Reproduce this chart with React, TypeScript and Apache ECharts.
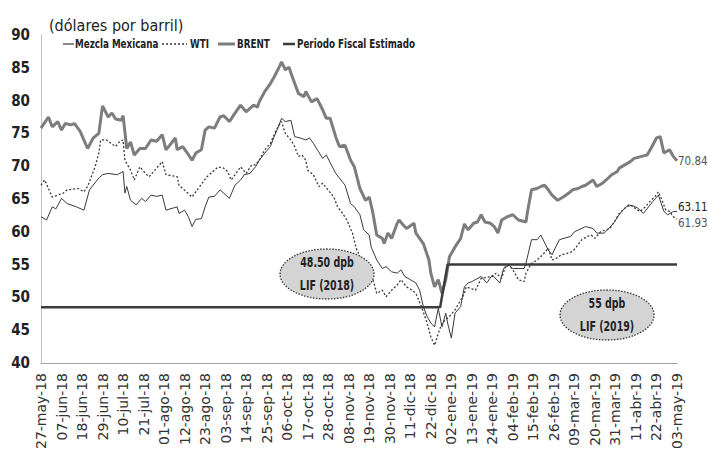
import React, { useEffect, useRef } from "react";
import * as echarts from "echarts";

// Calendar of the x axis: daily, from 27-may-18 to 03-may-19
const MONTHS = ["ene", "feb", "mar", "abr", "may", "jun", "jul", "ago", "sep", "oct", "nov", "dic"];
const DAY_COUNT = 342;

function buildDates(): string[] {
  const out: string[] = [];
  for (let i = 0; i < DAY_COUNT; i++) {
    const d = new Date(Date.UTC(2018, 4, 27 + i));
    const dd = String(d.getUTCDate()).padStart(2, "0");
    out.push(`${dd}-${MONTHS[d.getUTCMonth()]}-${String(d.getUTCFullYear()).slice(2)}`);
  }
  return out;
}
const dates = buildDates();

// [days since 27-may-18, USD per barrel]
const brent: number[][] = [
  [0, 75.8], [4, 77.5], [6, 76.0], [9, 76.8], [11, 75.5], [13, 76.5], [16, 76.3], [18, 76.5], [21, 75.3], [25, 72.7],
  [28, 74.3], [31, 75.0], [33, 79.2], [36, 77.5], [38, 78.1], [40, 77.2], [43, 77.0], [44, 77.7], [46, 72.7], [48, 73.7],
  [50, 71.7], [53, 72.7], [56, 72.7], [59, 74.0], [62, 73.8], [65, 74.8], [67, 72.5], [69, 73.2], [72, 74.3], [73, 72.5],
  [76, 73.0], [78, 72.2], [81, 70.9], [83, 72.0], [86, 72.5], [88, 75.5], [90, 76.0], [93, 75.8], [96, 77.5], [98, 77.7],
  [101, 76.8], [104, 78.1], [107, 79.3], [110, 78.3], [114, 79.3], [116, 79.0], [117, 79.8], [120, 81.4], [123, 82.6],
  [125, 83.6], [127, 84.7], [129, 85.9], [131, 84.7], [133, 85.1], [134, 84.2], [138, 81.1], [141, 80.6], [142, 81.4],
  [145, 79.8], [148, 80.3], [151, 78.6], [153, 77.3], [155, 77.3], [158, 74.5], [160, 73.0], [163, 73.2], [166, 70.9],
  [168, 69.9], [171, 66.6], [174, 64.8], [176, 65.3], [178, 62.8], [180, 59.5], [183, 59.0], [184, 58.2], [186, 59.8],
  [188, 59.0], [191, 61.3], [192, 61.8], [194, 61.1], [196, 60.5], [200, 61.3], [201, 59.8], [205, 58.2], [208, 55.7],
  [209, 53.7], [211, 51.6], [213, 52.7], [215, 50.6], [217, 52.7], [219, 56.2], [222, 57.7], [225, 59.0], [227, 61.2],
  [229, 60.3], [232, 61.3], [234, 61.5], [236, 62.6], [238, 61.5], [241, 61.3], [243, 60.8], [245, 59.8], [247, 61.8],
  [250, 62.3], [253, 62.6], [256, 61.8], [260, 61.5], [261, 63.3], [263, 66.4], [266, 66.6], [268, 66.9], [270, 67.1],
  [272, 66.4], [274, 65.6], [277, 64.8], [280, 65.3], [283, 65.9], [285, 66.4], [288, 66.6], [290, 66.9], [292, 67.1],
  [296, 67.9], [298, 66.9], [301, 67.4], [303, 67.9], [306, 68.7], [309, 69.2], [310, 69.7], [313, 70.2], [316, 70.7],
  [318, 71.2], [322, 71.5], [325, 71.7], [327, 72.7], [330, 74.3], [332, 74.5], [334, 72.0], [337, 72.5], [339, 71.5],
  [341, 70.84],
];

const mezcla: number[][] = [
  [0, 62.3], [3, 61.8], [6, 63.8], [8, 63.5], [11, 65.1], [14, 64.3], [19, 63.8], [23, 63.3], [26, 66.4], [31, 68.2],
  [33, 68.7], [36, 68.9], [41, 68.7], [44, 69.2], [45, 65.9], [46, 66.9], [48, 64.8], [51, 64.1], [54, 65.1], [56, 64.6],
  [59, 65.6], [62, 65.4], [65, 65.6], [67, 63.3], [73, 63.8], [74, 62.8], [77, 63.3], [79, 62.3], [81, 60.8], [83, 61.9],
  [86, 62.0], [88, 63.8], [90, 65.3], [93, 65.4], [96, 66.4], [101, 65.1], [104, 67.1], [107, 67.9], [109, 68.7],
  [112, 68.9], [115, 69.9], [117, 70.9], [120, 72.0], [123, 73.0], [125, 74.5], [127, 75.8], [129, 77.3], [131, 76.8],
  [134, 77.0], [136, 74.5], [139, 74.3], [142, 74.0], [144, 74.3], [146, 73.5], [151, 71.2], [153, 71.7], [158, 68.9],
  [160, 68.2], [163, 67.1], [166, 64.3], [168, 63.8], [171, 62.6], [173, 60.3], [176, 59.5], [177, 57.7], [180, 55.7],
  [183, 54.4], [185, 54.7], [188, 53.9], [191, 53.7], [193, 54.2], [195, 53.2], [198, 52.7], [201, 52.2], [203, 51.1],
  [205, 48.6], [207, 47.1], [209, 46.1], [211, 45.5], [213, 48.3], [215, 45.5], [217, 47.6], [218, 46.1], [220, 43.8],
  [222, 47.6], [225, 48.6], [227, 51.6], [229, 52.2], [231, 52.4], [236, 53.2], [239, 52.2], [242, 53.4], [246, 52.2],
  [248, 54.4], [251, 54.9], [253, 54.4], [259, 54.4], [260, 55.2], [263, 58.8], [266, 58.8], [268, 59.5], [272, 57.2],
  [274, 56.5], [276, 57.7], [278, 58.8], [284, 59.3], [286, 60.0], [292, 60.8], [296, 60.5], [298, 59.8], [302, 59.8],
  [307, 61.3], [310, 62.6], [312, 63.3], [315, 64.1], [318, 63.9], [320, 63.6], [323, 62.8], [326, 63.9], [328, 64.6],
  [331, 65.6], [334, 63.1], [336, 62.6], [339, 63.1], [341, 63.11],
];

const wti: number[][] = [
  [0, 67.1], [2, 67.9], [4, 66.6], [6, 65.3], [12, 65.9], [14, 66.4], [20, 66.6], [23, 66.1], [25, 66.9], [27, 68.4],
  [29, 69.9], [31, 72.0], [32, 74.0], [35, 74.0], [40, 73.0], [42, 73.7], [44, 74.0], [45, 70.9], [46, 70.4], [48, 69.4],
  [50, 67.9], [53, 69.9], [56, 68.9], [58, 68.4], [65, 70.7], [67, 68.7], [73, 68.4], [74, 67.1], [81, 65.3], [83, 66.1],
  [89, 68.4], [91, 68.9], [95, 69.9], [98, 69.7], [100, 69.2], [102, 67.9], [107, 69.9], [110, 68.9], [113, 70.2],
  [115, 70.2], [117, 70.9], [120, 72.5], [123, 73.5], [125, 74.8], [127, 76.0], [129, 76.8], [131, 75.0], [133, 74.3],
  [134, 74.0], [136, 73.0], [138, 71.5], [140, 71.7], [142, 70.9], [143, 69.4], [146, 68.7], [149, 66.9], [151, 67.4],
  [157, 65.3], [159, 63.8], [161, 63.1], [164, 61.8], [167, 59.8], [169, 57.5], [171, 56.2], [173, 54.7], [175, 53.7],
  [178, 52.7], [180, 50.6], [183, 51.1], [185, 50.1], [188, 51.1], [191, 51.9], [193, 52.7], [196, 51.6], [199, 51.1],
  [201, 50.6], [204, 48.6], [207, 46.1], [209, 44.0], [211, 42.7], [213, 44.5], [215, 46.1], [219, 47.1], [222, 48.1],
  [225, 49.6], [227, 50.6], [228, 51.6], [233, 51.1], [236, 52.9], [242, 53.2], [244, 53.7], [247, 52.9], [249, 54.7],
  [251, 54.9], [253, 54.2], [256, 52.7], [259, 52.4], [260, 53.7], [263, 55.2], [266, 55.7], [269, 56.5], [272, 57.5],
  [274, 55.7], [276, 55.9], [279, 56.5], [282, 56.7], [285, 57.0], [287, 57.7], [290, 58.8], [293, 59.3], [295, 59.5],
  [297, 59.0], [300, 60.0], [305, 60.5], [308, 61.8], [310, 62.8], [313, 63.6], [316, 64.1], [321, 63.1], [324, 63.8],
  [327, 64.8], [329, 65.3], [331, 66.1], [333, 64.8], [335, 63.3], [337, 63.1], [339, 62.3], [341, 61.93],
];

const fiscal: number[][] = [[0, 48.5], [214, 48.5], [218, 55], [341, 55]];

const seriesNames = ["Mezcla Mexicana", "WTI", "BRENT", "Periodo Fiscal Estimado"];
const yTicks = { min: 40, max: 90, step: 5 };
const notes = [
  { text: "48.50 dpb\nLIF (2018)", cx: 327, cy: 274 },
  { text: "55 dpb\nLIF (2019)", cx: 607, cy: 315 },
];

const COND = "'DejaVu Sans Condensed', 'Liberation Sans Narrow', sans-serif";
const C_DARK = "#3a3a3a";
const C_BRENT = "#7d7d7d";
const C_FISCAL = "#3c3c3c";

export default function App() {
  const ref = useRef<HTMLDivElement>(null);
  useEffect(() => {
    if (!ref.current) return;
    const chart = echarts.init(ref.current, undefined, { renderer: "svg" });
    const endFmt = (p: any) => Number(p.value[1]).toFixed(2);

    const legendItems = [
      { name: seriesNames[0], x1: 63, x2: 74, tx: 75, stroke: C_DARK, width: 1.2, dash: null as any },
      { name: seriesNames[1], x1: 162, x2: 187, tx: 190, stroke: C_DARK, width: 1.3, dash: [2, 2] },
      { name: seriesNames[2], x1: 218, x2: 235, tx: 237, stroke: C_BRENT, width: 3, dash: null },
      { name: seriesNames[3], x1: 283, x2: 295, tx: 297, stroke: C_FISCAL, width: 2.5, dash: null },
    ];
    const LY = 44;

    const graphics: any[] = [
      {
        type: "text",
        x: 49,
        y: 25,
        style: { text: "(dólares por barril)", fontSize: 16, fontFamily: COND, fill: "#222", verticalAlign: "middle" },
      },
    ];
    legendItems.forEach((it) => {
      graphics.push({
        type: "line",
        shape: { x1: it.x1, y1: LY, x2: it.x2, y2: LY },
        style: { stroke: it.stroke, lineWidth: it.width, lineDash: it.dash || undefined },
      });
      graphics.push({
        type: "text",
        x: it.tx,
        y: LY,
        scaleX: 0.78,
        style: {
          text: it.name,
          fontSize: 12.5,
          fontWeight: "bold",
          fontFamily: COND,
          fill: "#222",
          verticalAlign: "middle",
        },
      });
    });
    notes.forEach((n) => {
      graphics.push({
        type: "ellipse",
        shape: { cx: n.cx, cy: n.cy, rx: 47, ry: 25 },
        style: { fill: "#d4d4d4", stroke: "#333", lineWidth: 1.3, lineDash: [1.5, 1.5] },
        z: 10,
      });
      graphics.push({
        type: "text",
        x: n.cx,
        y: n.cy,
        scaleX: 0.78,
        style: {
          text: n.text,
          align: "center",
          verticalAlign: "middle",
          fontSize: 13.5,
          fontWeight: "bold",
          lineHeight: 23,
          fontFamily: COND,
          fill: "#222",
        },
        z: 11,
      });
    });

    const endLabel = (color: string, dy: number) => ({
      show: true,
      formatter: endFmt,
      fontSize: 11.5,
      fontFamily: COND,
      color,
      distance: 1,
      offset: [0, dy],
    });

    chart.setOption({
      animation: false,
      grid: { left: 41, right: 31, top: 35, bottom: 99 },
      xAxis: {
        type: "category",
        data: dates,
        boundaryGap: false,
        axisLine: { lineStyle: { color: "#a0a0a0", width: 1 } },
        axisTick: { show: false },
        axisLabel: {
          interval: 10,
          rotate: 90,
          fontSize: 14,
          fontFamily: "'DejaVu Sans', sans-serif",
          color: "#333",
          margin: 10,
        },
        splitLine: { show: false },
      },
      yAxis: {
        type: "value",
        min: yTicks.min,
        max: yTicks.max,
        interval: yTicks.step,
        axisLine: { show: true, lineStyle: { color: "#c0c0c0" } },
        axisTick: { show: false },
        splitLine: { show: false },
        axisLabel: { fontSize: 15, fontWeight: "bold", fontFamily: COND, color: "#222", margin: 11 },
      },
      graphic: graphics,
      series: [
        {
          name: seriesNames[2],
          type: "line",
          data: brent,
          symbol: "none",
          lineStyle: { color: C_BRENT, width: 3 },
          itemStyle: { color: C_BRENT },
          endLabel: endLabel("#555", 0),
          z: 2,
        },
        {
          name: seriesNames[0],
          type: "line",
          data: mezcla,
          symbol: "none",
          lineStyle: { color: C_DARK, width: 1 },
          itemStyle: { color: C_DARK },
          endLabel: endLabel("#222", -4),
          z: 4,
        },
        {
          name: seriesNames[1],
          type: "line",
          data: wti,
          symbol: "none",
          lineStyle: { color: C_DARK, width: 1.3, type: [2, 2] },
          itemStyle: { color: C_DARK },
          endLabel: endLabel("#555", 4),
          z: 3,
        },
        {
          name: seriesNames[3],
          type: "line",
          data: fiscal,
          symbol: "none",
          lineStyle: { color: C_FISCAL, width: 2.5 },
          itemStyle: { color: C_FISCAL },
          z: 5,
        },
      ],
    });
    return () => chart.dispose();
  }, []);
  return <div ref={ref} style={{ position: "absolute", left: 0, top: 0, width: 708, height: 462, background: "#fff" }} />;
}
